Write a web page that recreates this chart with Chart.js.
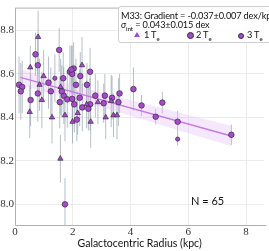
<!DOCTYPE html>
<html>
<head>
<meta charset="utf-8">
<script src="https://cdn.jsdelivr.net/npm/chart.js@4.4.1/dist/chart.umd.min.js"></script>
<style>
  html, body { margin: 0; padding: 0; background: #fff; }
  #wrap { position: relative; width: 269px; height: 251px; overflow: hidden; }
  .txt { position: absolute; font-family: Lato, sans-serif; color: #111; white-space: nowrap; line-height: 1; }
  #legend { position: absolute; left: 118px; top: 6px; width: 165px; height: 35px;
            border: 1px solid #d0d0d0; border-radius: 3px; background: rgba(255,255,255,0.9); }
  #legend .txt { font-size: 9.2px; letter-spacing: -0.15px; }
  .mk { position: absolute; background: #a54ac9; }
</style>
</head>
<body>
<div id="wrap">
  <canvas id="c" width="269" height="251"></canvas>
  <div id="legend">
    <div class="txt" style="left:2px;top:4px">M33: Gradient = -0.037±0.007 dex/kpc</div>
    <div class="txt" style="left:2px;top:13px"><i>σ</i><sub style="font-size:6.5px">int</sub> = 0.043±0.015 dex</div>
    <div class="mk" style="left:15px;top:25px;width:6px;height:5px;clip-path:polygon(50% 0,100% 100%,0 100%)"></div>
    <div class="txt" style="left:25px;top:23px">1 T<sub style="font-size:6px">e</sub></div>
    <div class="mk" style="left:68px;top:25px;width:5px;height:5px;border-radius:50%;border:0.7px solid #3a2a45"></div>
    <div class="txt" style="left:77px;top:23px">2 T<sub style="font-size:6px">e</sub></div>
    <div class="mk" style="left:119px;top:26px;width:4px;height:4px;border-radius:50%;border:0.6px solid #3a2a45"></div>
    <div class="txt" style="left:128px;top:23px">3 T<sub style="font-size:6px">e</sub></div>
  </div>
  <div class="txt" style="left:191px;top:195px;font-size:11px">N = 65</div>
</div>
<script>
// 1 Te (triangles)
const triX = [0.53, 0.51, 0.80, 0.85, 0.93, 0.99, 1.28, 1.58, 1.73, 2.32, 2.48, 1.99, 2.62, 3.14, 3.41, 3.53, 2.87, 3.33, 1.57, 2.17];
const triY = [8.63, 8.425, 8.77, 8.55, 8.48, 8.59, 8.40, 8.54, 8.41, 8.64, 8.46, 8.38, 8.38, 8.40, 8.41, 8.41, 8.47, 8.475, 8.21, 8.42];
const triErr = [0.10, 0.12, 0.12, 0.12, 0.13, 0.12, 0.12, 0.13, 0.12, 0.13, 0.11, 0.10, 0.12, 0.10, 0.10, 0.11, 0.10, 0.12, 0.11, 0.10];

// 2 Te (circles)
const c2X = [0.14, 0.25, 0.20, 0.54, 0.71, 0.79, 0.79, 1.16, 1.24, 1.53, 1.55, 1.69, 1.90, 1.98, 2.03, 1.95, 2.11, 2.26, 2.24, 2.49, 2.60, 2.60, 2.14, 3.11, 3.07, 3.36, 3.58, 3.62, 4.10, 4.38, 5.10, 4.87, 5.63, 7.49, 1.73, 1.81, 1.98, 2.33, 2.54, 1.62, 1.67, 2.05, 2.78];
const c2Y = [8.55, 8.54, 8.52, 8.48, 8.69, 8.64, 8.51, 8.56, 8.52, 8.71, 8.47, 8.50, 8.61, 8.60, 8.625, 8.62, 8.55, 8.59, 8.49, 8.55, 8.61, 8.46, 8.39, 8.50, 8.465, 8.49, 8.47, 8.51, 8.53, 8.455, 8.468, 8.403, 8.38, 8.32, 8.00, 8.483, 8.485, 8.446, 8.44, 8.52, 8.58, 8.46, 8.50];
const c2Err = [0.13, 0.12, 0.13, 0.12, 0.10, 0.12, 0.13, 0.12, 0.11, 0.10, 0.12, 0.13, 0.12, 0.13, 0.12, 0.11, 0.12, 0.11, 0.13, 0.10, 0.11, 0.12, 0.10, 0.10, 0.09, 0.10, 0.11, 0.09, 0.10, 0.048, 0.05, 0.036, 0.05, 0.047, 0.12, 0.13, 0.12, 0.11, 0.10, 0.12, 0.12, 0.13, 0.10];

// 3 Te (small circles)
const c3X = [5.63, 1.38];
const c3Y = [8.30, 8.58];
const c3Err = [0.03, 0.11];

// fit and its band
const fitX = [0.19, 7.49];
const fitY = [8.584, 8.314];
const bandX = [0.19, 1.0, 2.0, 3.0, 4.0, 5.0, 6.0, 7.49];
const bandLow = [8.547, 8.519, 8.484, 8.446, 8.407, 8.367, 8.327, 8.267];
const bandHigh = [8.621, 8.589, 8.550, 8.514, 8.479, 8.445, 8.411, 8.361];

const xTicks = [0, 2, 4, 6, 8];
const yTicks = [8.0, 8.2, 8.4, 8.6, 8.8];

const purple = '#a54ac9';
const edge = '#3a2a45';

function pts(xs, ys, es) {
  return xs.map((x, i) => ({ x: x, y: ys[i], e: es ? es[i] : 0 }));
}

const errorBars = {
  id: 'errorBars',
  beforeDatasetsDraw(chart) {
    const ctx = chart.ctx, ys = chart.scales.y, a = chart.chartArea;
    ctx.save();
    ctx.beginPath();
    ctx.rect(a.left, a.top, a.right - a.left, a.bottom - a.top);
    ctx.clip();
    ctx.strokeStyle = 'rgba(120,138,155,0.55)';
    ctx.lineWidth = 1;
    chart.data.datasets.forEach((ds, i) => {
      if (!ds.errorBars) return;
      chart.getDatasetMeta(i).data.forEach((p, j) => {
        const d = ds.data[j];
        ctx.beginPath();
        ctx.moveTo(p.x, ys.getPixelForValue(d.y - d.e));
        ctx.lineTo(p.x, ys.getPixelForValue(d.y + d.e));
        ctx.stroke();
      });
    });
    ctx.restore();
  },
  afterDraw(chart) {
    const ctx = chart.ctx, a = chart.chartArea;
    ctx.save();
    ctx.strokeStyle = '#b0b0b0';
    ctx.lineWidth = 1;
    ctx.beginPath();
    ctx.moveTo(a.right + 2, a.top + 0.5);
    ctx.lineTo(a.left + 0.5, a.top + 0.5);
    ctx.lineTo(a.left + 0.5, a.bottom + 0.5);
    ctx.lineTo(a.right + 2, a.bottom + 0.5);
    ctx.stroke();
    ctx.restore();
  }
};

const markerBase = {
  backgroundColor: purple,
  borderColor: edge,
  borderWidth: 0.7,
  showLine: false,
  errorBars: true,
  order: 0
};

new Chart(document.getElementById('c'), {
  type: 'scatter',
  data: {
    datasets: [
      Object.assign({}, markerBase, { label: '1 Te', data: pts(triX, triY, triErr), pointStyle: 'triangle', pointRadius: 3.1 }),
      Object.assign({}, markerBase, { label: '2 Te', data: pts(c2X, c2Y, c2Err), pointStyle: 'circle', pointRadius: 2.8 }),
      Object.assign({}, markerBase, { label: '3 Te', data: pts(c3X, c3Y, c3Err), pointStyle: 'circle', pointRadius: 2.1 }),
      { type: 'line', label: 'fit', data: pts(fitX, fitY), borderColor: '#c57be0', borderWidth: 1.5,
        pointRadius: 0, fill: false, order: 1 },
      { type: 'line', label: 'band hi', data: pts(bandX, bandHigh), borderColor: 'rgba(0,0,0,0)', borderWidth: 0,
        pointRadius: 0, backgroundColor: 'rgba(228,190,245,0.35)', fill: '+1', order: 2 },
      { type: 'line', label: 'band lo', data: pts(bandX, bandLow), borderColor: 'rgba(0,0,0,0)', borderWidth: 0,
        pointRadius: 0, fill: false, order: 2 }
    ]
  },
  options: {
    responsive: false,
    animation: false,
    layout: { padding: { top: 2, right: 1, left: 0, bottom: 0 } },
    plugins: { legend: { display: false }, tooltip: { enabled: false } },
    scales: {
      x: {
        type: 'linear', min: 0, max: 8.63,
        afterBuildTicks: s => { s.ticks = xTicks.map(v => ({ value: v })); },
        afterFit: s => { s.height = 26; },
        ticks: { color: '#333', font: { family: 'Liberation Serif', size: 11 }, padding: 1 },
        grid: { color: '#ececec', drawTicks: false },
        border: { display: false },
        title: { display: true, text: 'Galactocentric Radius (kpc)', color: '#111',
                 font: { family: 'Lato', size: 10.5 }, padding: { top: 1, bottom: 1 } }
      },
      y: {
        type: 'linear', min: 7.905, max: 8.905,
        afterBuildTicks: s => { s.ticks = yTicks.map(v => ({ value: v })); },
        afterFit: s => { s.width = 15; },
        ticks: { color: '#333', font: { family: 'Liberation Serif', size: 11 }, padding: 1,
                 callback: v => v.toFixed(1) },
        grid: { color: '#ececec', drawTicks: false },
        border: { display: false }
      }
    }
  },
  plugins: [errorBars]
});
</script>
</body>
</html>
